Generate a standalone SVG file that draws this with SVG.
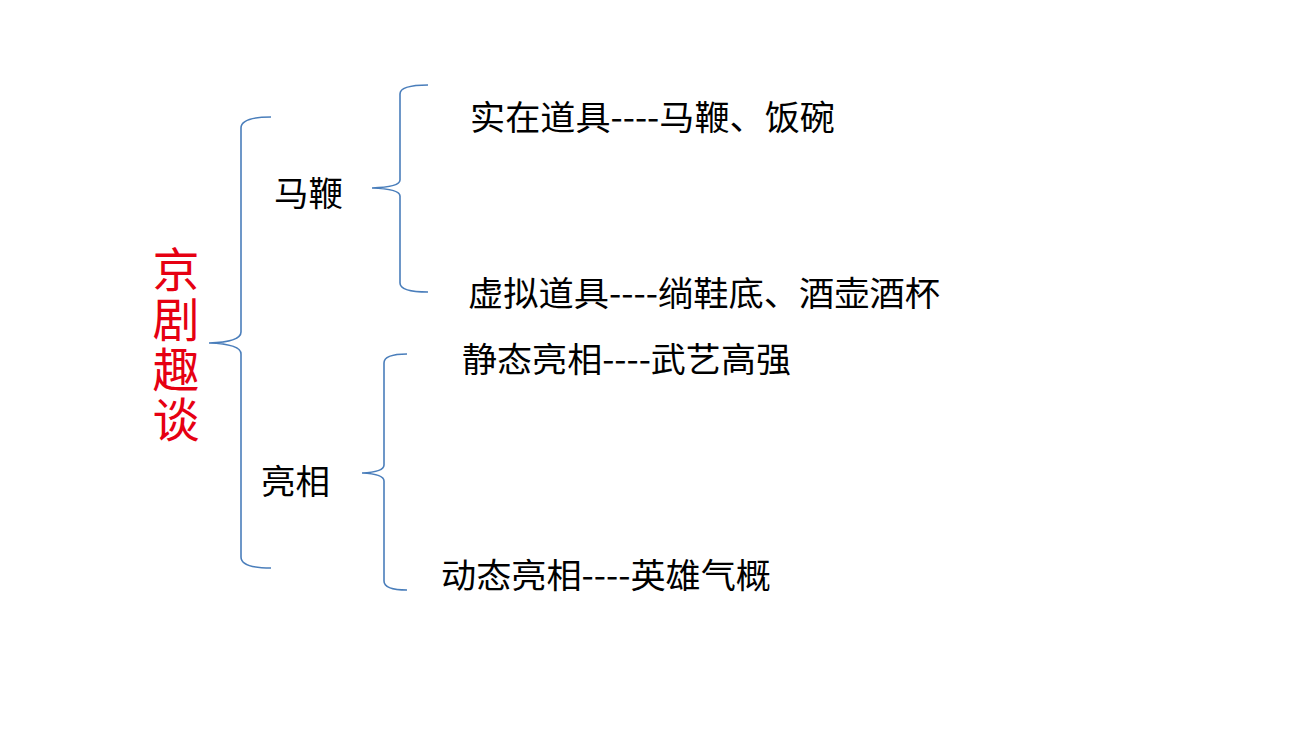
<svg xmlns="http://www.w3.org/2000/svg" width="1296" height="729" viewBox="0 0 1296 729">
<style>
.brace{fill:none;stroke:#4a7ebb;stroke-width:1.6}
.t{font-family:"Noto Sans CJK SC","Noto Sans",sans-serif;fill:#000;font-size:34px}
.title{font-family:"Noto Sans CJK SC","Noto Sans",sans-serif;fill:#e60012;font-size:47px;writing-mode:vertical-rl;text-orientation:upright;letter-spacing:3px}
</style>
<rect width="1296" height="729" fill="#fff"/>
<g id="connectors">
<path class="brace" d="M271,117 Q241,117 241,128 L241,332 Q241,342 209,343 Q241,344 241,354 L241,557 Q241,568 271,568"/>
<path class="brace" d="M428,85 Q400,85 400,94 L400,180 Q400,187 372,188 Q400,189 400,196 L400,283 Q400,292 428,292"/>
<path class="brace" d="M407,354 Q384,354 384,363 L384,465 Q384,472 362,473 Q384,474 384,481 L384,581 Q384,590 407,590"/>
</g>
<g id="root"><text class="title" x="176" y="246">京剧趣谈</text></g>
<g id="mabian"><text class="t" x="274" y="206" textLength="69" lengthAdjust="spacingAndGlyphs">马鞭</text></g>
<g id="liangxiang"><text class="t" x="261" y="494" textLength="69" lengthAdjust="spacingAndGlyphs">亮相</text></g>
<g id="n1"><text class="t" x="470" y="130" textLength="365" lengthAdjust="spacingAndGlyphs">实在道具----马鞭、饭碗</text></g>
<g id="n2"><text class="t" x="468" y="306" textLength="472" lengthAdjust="spacingAndGlyphs">虚拟道具----绱鞋底、酒壶酒杯</text></g>
<g id="n3"><text class="t" x="462" y="372" textLength="329" lengthAdjust="spacingAndGlyphs">静态亮相----武艺高强</text></g>
<g id="n4"><text class="t" x="441" y="588" textLength="330" lengthAdjust="spacingAndGlyphs">动态亮相----英雄气概</text></g>
</svg>
